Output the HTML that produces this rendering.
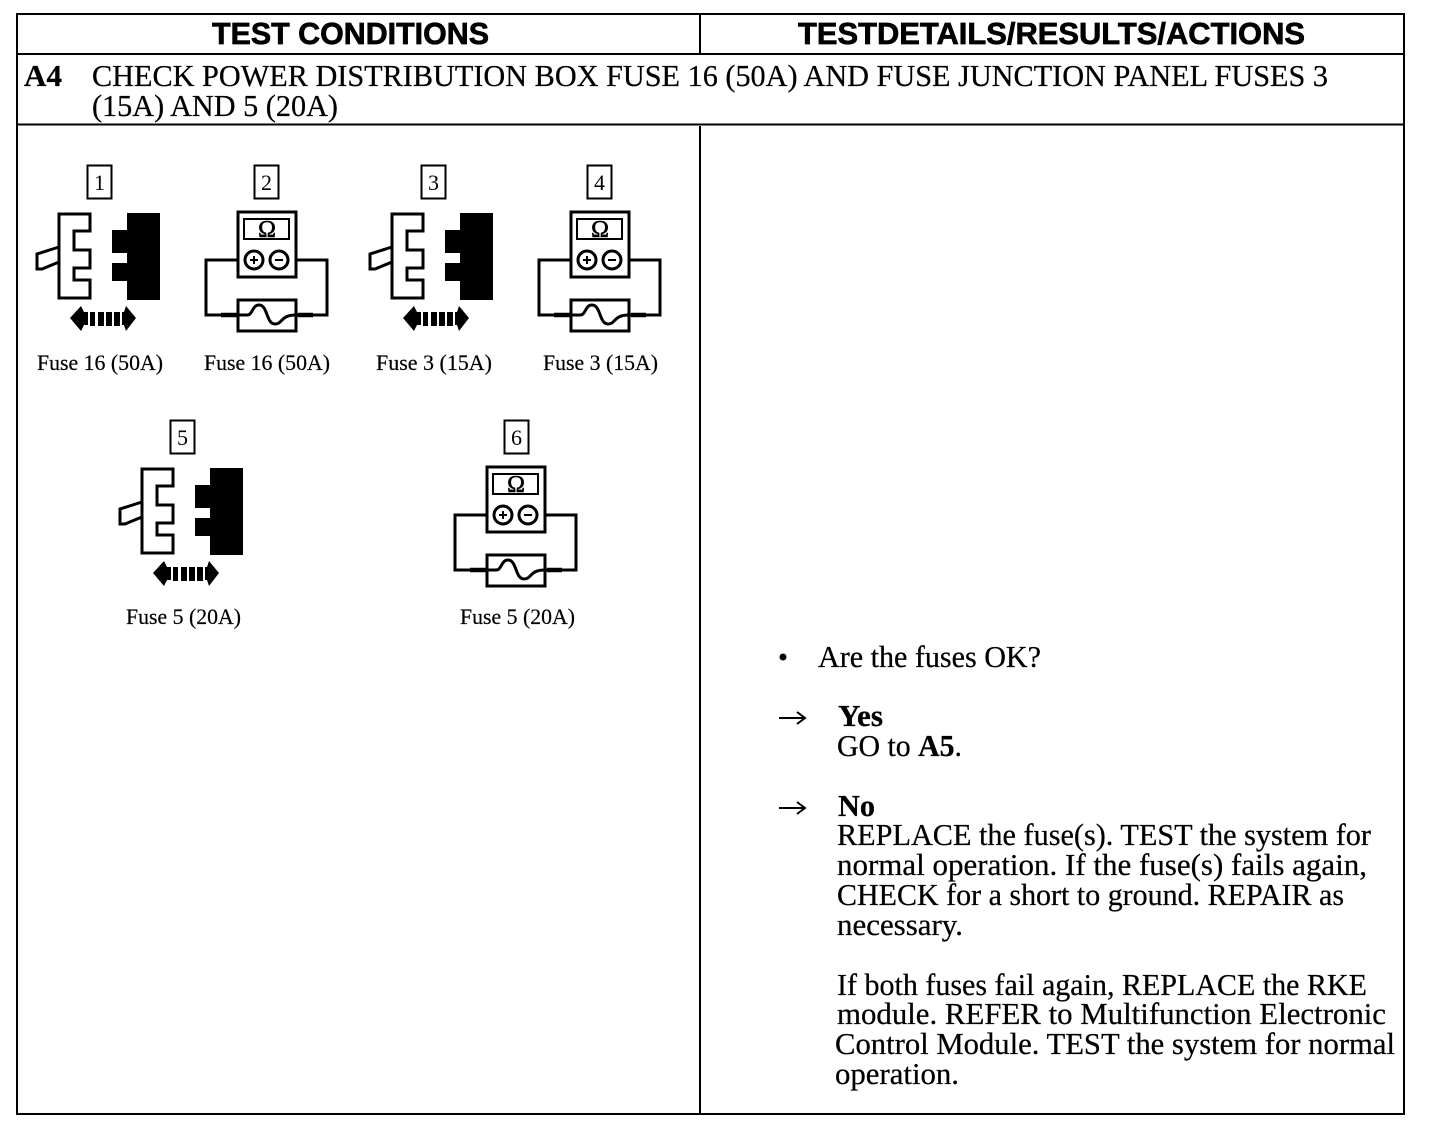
<!DOCTYPE html>
<html>
<head>
<meta charset="utf-8">
<style>
html,body{margin:0;padding:0;background:#fff}
svg{display:block}
text{font-family:"Liberation Serif",serif;fill:#000}
.h{font-family:"Liberation Sans",sans-serif;font-weight:bold;font-size:31px;stroke:#000;stroke-width:.7px}
.t{font-size:31px;stroke:#000;stroke-width:.25px}
.b{font-weight:bold}
.c{font-size:22px;stroke:#000;stroke-width:.2px}
.n{font-size:22px;text-anchor:middle}
</style>
</head>
<body>
<svg width="1440" height="1140" viewBox="0 0 1440 1140" xmlns="http://www.w3.org/2000/svg">
<defs>
<g id="conn">
<path d="M59 214H90V231H74V250H90V268H74V280H90V298H59Z M59 247L37 254V269L42 269L59 262" fill="#fff" stroke="#000" stroke-width="3"/>
<path d="M127 213H160V300H127V281H112V263H127V253H112V230H127Z" fill="#000"/>
</g>
<g id="arrows">
<path d="M70 318L81 306L84 312H88V325H84L81 331Z M136 318L126 306L124 312H122V325H124L126 331Z" fill="#000"/>
<path d="M90 312h5v14h-5z M98 312h6v14h-6z M106 312h6v14h-6z M114 312h6v14h-6z" fill="#000"/>
</g>
<g id="meter" fill="none" stroke="#000" stroke-width="3">
<rect x="238" y="212" width="58" height="65" fill="#fff"/>
<rect x="244" y="219" width="45" height="20" stroke-width="2"/>
<circle cx="254" cy="260" r="9"/>
<circle cx="279" cy="260" r="9"/>
<path d="M238 260H206V315H238 M296 260H327V315H296"/>
<path d="M221 315H237 M298 315H313" stroke-width="4.500"/>
<rect x="238" y="300" width="58" height="31"/>
<path d="M238 315H247C253 315 252 305 259 305C268 305 266 324 275 324C283 324 280 315 296 315"/>
<path d="M250 260h8M254 256v8M275 260h8" stroke-width="2"/>
<text x="267" y="237" font-size="24" text-anchor="middle" stroke="#000" stroke-width=".6" fill="#000">Ω</text>
</g>
<g id="box"><rect x="87.500" y="165.500" width="24" height="33" fill="#fff" stroke="#000" stroke-width="2"/></g>
</defs>

<rect x="17" y="14" width="1387" height="1100" fill="none" stroke="#000" stroke-width="2"/>
<path d="M16 54H1404 M16 124.500H1404 M700 14V54 M700 126V1114" stroke="#000" stroke-width="2" fill="none"/>

<text class="h" x="212" y="44" textLength="277" lengthAdjust="spacingAndGlyphs">TEST CONDITIONS</text>
<text class="h" x="798" y="44" textLength="507" lengthAdjust="spacingAndGlyphs">TESTDETAILS/RESULTS/ACTIONS</text>

<text class="t b" x="24" y="86" textLength="38" lengthAdjust="spacingAndGlyphs">A4</text>
<text class="t" x="92" y="86" textLength="1236" lengthAdjust="spacingAndGlyphs">CHECK POWER DISTRIBUTION BOX FUSE 16 (50A) AND FUSE JUNCTION PANEL FUSES 3</text>
<text class="t" x="92" y="116" textLength="246" lengthAdjust="spacingAndGlyphs">(15A) AND 5 (20A)</text>

<use href="#box" x="0" y="0"/><use href="#box" x="167" y="0"/><use href="#box" x="334" y="0"/><use href="#box" x="500" y="0"/>
<use href="#box" x="83" y="255"/><use href="#box" x="417" y="255"/>
<text class="n" x="99.500" y="190">1</text>
<text class="n" x="266.500" y="190">2</text>
<text class="n" x="433.500" y="190">3</text>
<text class="n" x="599.500" y="190">4</text>
<text class="n" x="182.500" y="445">5</text>
<text class="n" x="516.500" y="445">6</text>

<use href="#conn"/><use href="#arrows"/>
<use href="#conn" x="333"/><use href="#arrows" x="333"/>
<use href="#conn" x="83" y="255"/><use href="#arrows" x="83" y="255"/>
<use href="#meter"/>
<use href="#meter" x="333"/>
<use href="#meter" x="249" y="255"/>

<text class="c" x="37" y="370" textLength="126" lengthAdjust="spacingAndGlyphs">Fuse 16 (50A)</text>
<text class="c" x="204" y="370" textLength="126" lengthAdjust="spacingAndGlyphs">Fuse 16 (50A)</text>
<text class="c" x="376" y="370" textLength="116" lengthAdjust="spacingAndGlyphs">Fuse 3 (15A)</text>
<text class="c" x="543" y="370" textLength="115" lengthAdjust="spacingAndGlyphs">Fuse 3 (15A)</text>
<text class="c" x="126" y="624" textLength="115" lengthAdjust="spacingAndGlyphs">Fuse 5 (20A)</text>
<text class="c" x="460" y="624" textLength="115" lengthAdjust="spacingAndGlyphs">Fuse 5 (20A)</text>

<circle cx="783" cy="657" r="3.500" fill="#000"/>
<text class="t" x="818" y="667" textLength="223" lengthAdjust="spacingAndGlyphs">Are the fuses OK?</text>

<path d="M779 718H804 M797 712L805 718L797 724" fill="none" stroke="#000" stroke-width="2"/>
<text class="t b" x="838" y="726" textLength="45" lengthAdjust="spacingAndGlyphs">Yes</text>
<text class="t" x="837" y="756" textLength="125" lengthAdjust="spacingAndGlyphs">GO to <tspan class="b">A5</tspan>.</text>

<path d="M779 808H804 M797 802L805 808L797 814" fill="none" stroke="#000" stroke-width="2"/>
<text class="t b" x="838" y="816" textLength="37" lengthAdjust="spacingAndGlyphs">No</text>
<text class="t" x="837" y="845" textLength="534" lengthAdjust="spacingAndGlyphs">REPLACE the fuse(s). TEST the system for</text>
<text class="t" x="837" y="875" textLength="530" lengthAdjust="spacingAndGlyphs">normal operation. If the fuse(s) fails again,</text>
<text class="t" x="837" y="905" textLength="507" lengthAdjust="spacingAndGlyphs">CHECK for a short to ground. REPAIR as</text>
<text class="t" x="837" y="935" textLength="126" lengthAdjust="spacingAndGlyphs">necessary.</text>
<text class="t" x="837" y="995" textLength="530" lengthAdjust="spacingAndGlyphs">If both fuses fail again, REPLACE the RKE</text>
<text class="t" x="837" y="1024" textLength="549" lengthAdjust="spacingAndGlyphs">module. REFER to Multifunction Electronic</text>
<text class="t" x="835" y="1054" textLength="560" lengthAdjust="spacingAndGlyphs">Control Module. TEST the system for normal</text>
<text class="t" x="835" y="1084" textLength="124" lengthAdjust="spacingAndGlyphs">operation.</text>
</svg>
</body>
</html>
